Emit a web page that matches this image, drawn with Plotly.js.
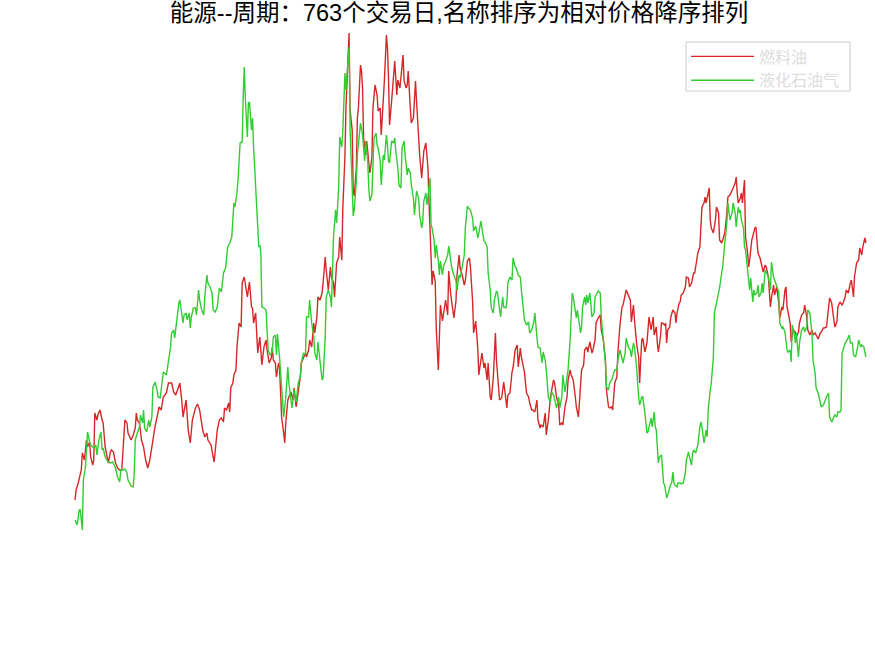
<!DOCTYPE html>
<html>
<head>
<meta charset="utf-8">
<script src="https://cdn.plot.ly/plotly-3.0.1.min.js"></script>
<style>html,body{margin:0;padding:0;background:#fff;}#chart{width:875px;height:656px;}</style>
</head>
<body>
<div id="chart"></div>
<script>
// Series names
const seriesNames = ["燃料油", "液化石油气"];
const titleText = "能源--周期：763个交易日,名称排序为相对价格降序排列";

// 燃料油 (fuel oil) — trading-day index and relative price, in segments
const fuelDays1 = [0,1,3,5,6,7,9,11,12,14,15,17,18,19,21,22,24,26,27,29,31,32,34,35,37,38,39,41,43,45,47,48,50,51,54,56,58,59,60,62,64,66,68,70,72,73,75,77,79,81,83,85,88,90,93,95,97,100,101,103,104,107,109,111,113,116,118,120,123,125,127,128,131,133,134];
const fuelVals1 = [1.00,1.10,1.17,1.27,1.30,1.47,1.40,1.60,1.53,1.58,1.43,1.35,1.40,1.87,1.80,1.85,1.90,1.80,1.77,1.53,1.43,1.37,1.48,1.50,1.48,1.43,1.37,1.32,1.30,1.30,1.73,1.80,1.77,1.67,1.60,1.65,1.72,1.87,1.80,1.77,1.60,1.53,1.40,1.32,1.40,1.47,1.57,1.73,1.83,1.93,1.90,2.03,2.07,2.17,2.17,2.08,2.05,2.15,2.17,1.97,1.83,2.00,1.70,1.57,1.80,1.92,1.96,1.90,1.70,1.63,1.67,1.60,1.55,1.43,1.38];
const fuelDays2 = [137,139,141,143,144,146,148,149,150,152,153,155,156,158,160,161,163,164,166,168,170,171,172,174,176,178,179,180,182,184,185,187,189,190,191,193,194,196,197,199,201,202,203,205,206,208,210,211,213,215,217,218,220,222,223,225,226,228,230,231,233,234,236,238,239,241,242,244,246,247,249,250,252,254,255,257,258,260,261,263,264,265];
const fuelVals2 = [1.70,1.80,1.82,1.78,1.92,1.90,1.97,1.88,2.12,2.17,2.25,2.30,2.53,2.77,2.73,3.17,3.23,3.17,3.03,3.18,2.93,2.92,2.77,2.87,2.47,2.63,2.45,2.35,2.53,2.60,2.50,2.37,2.42,2.53,2.40,2.37,2.23,2.37,2.33,1.83,1.67,1.57,1.77,2.00,2.03,2.08,2.00,2.12,1.93,2.07,2.23,2.37,2.43,2.47,2.43,2.50,2.60,2.53,2.77,2.67,2.83,3.03,3.00,3.07,3.17,3.43,3.30,3.10,3.33,3.23,3.17,3.03,3.37,3.43,3.63,3.40,3.93,4.43,4.93,5.37,5.67,4.90];
const fuelDays3 = [267,268,269,271,272,273,275,276,277,278,280,281,283,284,286,287,289,291,292,294,295,297,298,300,301,302,303,305,307,308,310,311,313,315,316,317,319,320,321,323,324,326,328,329,331,332,334,335,336,338,340,341,342,344,345,347,348,350,351,352,354,355,357,359,360,362,363,365,367,368,370,371,373,375,376,378,380,381,383,384,386,388,389,391,392,394];
const fuelVals3 = [4.70,4.09,4.04,4.32,4.82,4.92,5.35,5.29,5.12,4.62,4.45,4.59,4.35,4.27,4.42,4.92,5.15,5.05,4.89,4.92,4.65,4.95,5.19,5.65,5.52,5.22,4.75,4.99,5.25,5.39,5.05,5.20,5.12,5.32,5.45,5.19,5.12,5.15,5.29,4.92,4.77,4.82,5.19,4.99,4.62,4.45,4.22,4.42,4.49,4.57,4.32,3.99,3.65,3.15,3.29,3.19,2.72,2.30,2.62,2.95,2.79,2.85,3.00,2.85,3.29,3.05,2.95,2.82,2.99,3.25,3.45,3.32,3.25,3.15,3.19,3.39,3.42,3.32,2.99,2.67,2.79,2.52,2.25,2.42,2.47,2.32];
const fuelDays4 = [395,397,398,400,401,403,405,406,408,409,411,413,414,416,417,419,421,422,424,426,427,429,430,432,433,435,437,438,440,441,443,445,446,448,449,451,453,454,456,458,459,461,462,464,466,467,469,470,472,474,475,477,478,480,482,483,485,486,488,490,491,493,494,496,498,499,501,502,504,506,507,509,511,512,514,515,517,518,520,522,523];
const fuelVals4 = [2.37,2.20,2.37,2.03,2.00,2.23,2.67,2.40,2.18,2.00,2.02,2.18,2.10,1.92,2.05,2.07,2.28,2.32,2.50,2.55,2.33,2.52,2.43,2.30,2.28,2.07,2.03,1.97,1.90,1.90,1.88,2.00,1.80,1.72,1.75,1.73,1.87,1.65,1.80,2.03,2.10,2.20,2.17,2.02,1.95,1.75,1.77,1.75,1.93,2.03,2.20,2.30,2.25,2.20,2.03,1.93,1.83,2.03,2.30,2.35,2.50,2.53,2.48,2.58,2.47,2.50,2.60,2.77,2.82,2.85,2.70,2.60,2.40,2.10,1.93,1.92,1.93,1.90,2.17,2.23,2.47];
const fuelDays5 = [525,527,528,530,531,533,535,536,538,539,541,543,544,545,546,547,549,551,552,553,555,556,557,558,560,561,562,564,565,566,568,569,570,571,573,574,575,576,578,579,580,582,583,584,586,588,589,591,592,594,596,597,599,600,602,603,604,606,607,608,609,611,612,613,615,617,618,620,621,623,624,626,628,629,631,632,634,636,637,638,639,641,642,643,644,645,646,648,649,650];
const fuelVals5 = [2.75,2.93,2.95,3.03,3.10,3.05,3.00,2.78,2.95,2.80,2.57,2.43,2.17,2.40,2.60,2.62,2.48,2.57,2.67,2.83,2.70,2.77,2.83,2.65,2.73,2.57,2.48,2.63,2.77,2.77,2.75,2.77,2.57,2.70,2.73,2.83,2.88,2.90,2.87,2.77,2.87,2.97,2.98,3.05,3.07,3.13,3.23,3.22,3.13,3.17,3.27,3.27,3.40,3.47,3.53,3.70,3.93,3.97,4.03,3.97,4.02,4.12,3.80,3.72,3.67,3.80,3.93,3.87,3.60,3.57,3.60,3.67,3.87,4.03,4.05,4.07,4.12,4.17,4.23,4.07,3.97,4.02,4.07,3.97,4.13,4.20,3.63,3.47,3.33,3.40];
const fuelDays6 = [652,653,655,656,657,658,660,661,663,665,666,668,670,671,673,674,676,678,679,681,682,684,685,686,687,689,690,692,694,695,697,698,700,702,703,705,706,708,710,711,713,714,716,718,719,721,722,724,726,727,729,731,732,734,735,737,739,740,742,743,745,747,748,750,751,753,755,756,758,759,761,762];
const fuelVals6 = [3.60,3.65,3.72,3.73,3.60,3.47,3.42,3.37,3.28,3.35,3.33,3.23,2.93,3.02,3.15,3.05,3.13,2.97,2.82,2.93,2.90,3.10,3.13,2.93,2.87,2.77,2.58,2.70,2.68,2.63,2.68,2.77,2.85,2.87,2.95,2.83,2.70,2.65,2.70,2.65,2.67,2.65,2.61,2.67,2.68,2.72,2.72,2.73,2.98,3.02,2.97,2.77,2.73,2.78,2.93,2.98,2.95,2.97,3.03,3.10,3.07,3.17,3.20,3.03,3.23,3.37,3.40,3.52,3.45,3.53,3.62,3.57];

// 液化石油气 (LPG) — trading-day index and relative price, in segments
const lpgDays1 = [0,1,2,4,5,7,8,10,11,12,14,15,17,18,20,21,23,25,26,27,29,31,32,34,36,39,41,43,44,46,48,50,51,54,56,57,58,60,62,63,65,66,67,69,71,72,74,75,77,79,80,82,84,85,88,90,92,93,95,96,98,100,101,102,104,105,107,108,110,111,112,114,116,117,119,120,122,124,125,127,128,130,132,133,135];
const lpgVals1 = [0.80,0.77,0.75,0.90,0.90,0.70,1.20,1.33,1.53,1.68,1.58,1.55,1.53,1.52,1.55,1.45,1.60,1.68,1.50,1.52,1.43,1.40,1.38,1.37,1.38,1.32,1.23,1.18,1.30,1.30,1.31,1.27,1.20,1.14,1.13,1.27,1.60,1.67,1.73,1.85,1.77,1.90,1.72,1.68,1.80,1.73,1.83,2.13,2.18,2.10,2.03,2.02,2.18,2.28,2.25,2.40,2.53,2.67,2.70,2.62,2.80,2.97,3.00,2.90,2.77,2.85,2.87,2.80,2.87,2.72,2.83,2.92,2.92,2.85,3.10,3.00,2.90,2.85,3.03,3.25,3.17,3.13,3.07,2.90,2.88];
const lpgDays2 = [137,139,141,143,145,147,149,151,153,154,156,157,159,161,162,163,164,166,167,168,170,171,172,173,175,177,178,179,180,182,184,185,186,188,190,191,193,194,195,197,199,200,201,203,205,206,208,209,211,213,215,217,218,220,222,223,225,226,228,230,231,233,234,236,238,239,241,242,244,246,247,249,251,252,254,255,257,258,260,261,263,264,265];
const lpgVals2 = [2.93,3.12,3.08,3.27,3.32,3.53,3.57,3.63,3.97,3.93,4.07,4.20,4.57,4.58,5.03,5.33,5.03,4.63,4.97,4.98,4.70,4.82,4.53,4.30,3.83,3.53,3.55,3.47,2.93,2.92,2.90,2.73,2.50,2.45,2.48,2.63,2.65,2.45,2.66,2.43,2.17,2.00,1.83,2.03,2.33,2.17,2.00,1.92,2.10,1.98,2.17,2.23,2.37,2.47,2.45,2.83,2.83,3.00,2.77,2.63,2.47,2.40,2.58,2.40,2.20,2.22,2.63,3.03,3.10,3.03,2.93,3.63,3.90,3.77,4.13,4.63,4.53,4.70,5.27,5.10,5.40,5.53,4.70];
const lpgDays3 = [267,268,269,271,272,274,275,277,278,279,280,282,283,284,286,287,288,290,291,292,294,295,297,298,300,301,302,303,305,307,308,309,311,312,314,315,317,318,320,321,323,324,326,327,329,331,332,334,335,336,338,339,341,342,343,344,346,347,348,350,351,352,354,355,357,359,360,362,363,365,367,368,370,371,373,375,376,378,379,381,383,384,386,388,389,391,392,394];
const lpgVals3 = [4.15,3.84,3.90,4.19,4.45,4.72,4.77,4.65,4.52,4.39,4.59,4.39,4.12,3.99,4.05,4.39,4.62,4.67,4.55,4.52,4.39,4.15,4.45,4.40,4.65,4.55,4.39,4.37,4.59,4.57,4.62,4.49,4.32,4.15,4.12,4.52,4.59,4.45,4.25,4.32,4.27,4.15,4.02,3.85,4.09,4.02,3.85,3.72,3.79,3.99,4.07,3.95,4.12,4.22,3.75,3.72,3.59,3.42,3.55,3.39,3.25,3.39,3.25,3.34,3.39,3.45,3.54,3.39,3.32,3.25,3.19,3.09,3.25,3.22,3.32,3.45,3.72,3.94,3.92,3.90,3.82,3.69,3.74,3.62,3.67,3.79,3.72,3.59];
const lpgDays4 = [395,397,398,400,401,403,404,406,407,409,410,412,413,415,416,417,419,421,422,424,425,427,429,430,432,433,435,437,438,440,442,443,445,446,448,450,451,453,454,456,458,459,461,462,464,466,467,469,470,472,474,475,477,478,479,480,482,483,484,486,487,488,489,491,492,493,494,496,497,498,500,501,503,504,506,507,509,511,512,514,515,517,519,520,522,523,525,527];
const lpgVals4 = [3.58,3.53,3.27,3.10,2.92,2.87,3.00,3.09,3.07,2.90,2.83,3.03,2.93,2.92,2.97,3.17,3.23,3.20,3.42,3.33,3.32,3.25,3.23,3.10,2.87,2.80,2.75,2.78,2.67,2.70,2.78,2.87,2.63,2.53,2.52,2.37,2.48,2.40,2.30,2.03,1.98,2.08,2.05,2.00,1.92,2.03,1.92,2.03,2.25,2.08,2.20,2.30,2.60,2.90,3.07,3.03,2.88,2.82,2.90,2.77,2.67,2.73,2.93,3.03,2.95,3.05,2.97,3.07,2.93,2.83,2.87,3.03,3.07,3.09,3.07,2.83,2.60,2.37,2.13,2.10,2.17,2.20,2.27,2.30,2.30,2.40,2.50,2.43];
const lpgDays5 = [528,530,531,533,535,536,538,539,541,543,544,546,547,549,551,552,554,555,556,558,559,560,562,563,565,567,568,570,572,573,575,576,577,578,580,581,583,584,586,588,589,591,592,594,595,596,598,599,600,602,603,604,605,606,607,608,609,610,612,613,615,616,618,620,621,623,624,626,628,629,631,633,634,636,637,639,640,641,642,644,645,646,648,649,650,651,653,654,655,657,658,659];
const lpgVals5 = [2.37,2.47,2.62,2.53,2.50,2.43,2.57,2.53,2.33,2.03,1.95,2.03,2.03,1.87,1.67,1.68,1.77,1.82,1.73,1.88,1.73,1.70,1.37,1.43,1.45,1.17,1.15,1.02,1.08,1.13,1.18,1.28,1.17,1.15,1.13,1.17,1.17,1.16,1.17,1.27,1.40,1.48,1.43,1.35,1.47,1.50,1.47,1.52,1.55,1.73,1.78,1.73,1.63,1.57,1.63,1.70,1.63,1.90,2.10,2.17,2.43,2.87,2.97,3.08,3.12,3.27,3.33,3.57,3.77,3.97,3.80,3.87,3.97,3.87,3.73,3.93,3.87,3.90,3.80,3.72,3.53,3.50,3.33,3.23,3.10,3.22,2.98,3.10,3.05,3.07,3.15,3.03];
const lpgDays6 = [661,662,663,665,666,668,670,671,673,674,676,678,679,681,682,684,686,687,689,690,691,693,694,695,697,698,700,702,703,705,706,708,710,711,713,714,716,718,719,721,722,724,726,727,729,731,732,734,735,737,738,739,741,742,744,746,747,749,750,752,754,755,757,758,760,762];
const lpgVals6 = [3.07,3.17,3.07,3.30,3.28,3.23,3.10,3.38,3.23,3.20,3.13,3.08,2.77,2.72,2.73,2.68,2.50,2.48,2.50,2.38,2.75,2.67,2.57,2.67,2.43,2.57,2.70,2.73,2.68,2.73,2.90,2.87,2.67,2.40,2.27,2.12,2.07,1.97,1.93,1.95,1.98,2.03,2.07,1.83,1.78,1.82,1.85,1.83,1.88,1.88,1.90,2.47,2.55,2.57,2.60,2.65,2.57,2.57,2.45,2.43,2.53,2.60,2.53,2.55,2.53,2.43];

function join(pairs) {
  let xs = [], ys = [];
  pairs.forEach(function (p, i) {
    if (p[0].length !== p[1].length) throw new Error("segment " + (i + 1) + " length mismatch: " + p[0].length + " vs " + p[1].length);
    xs = xs.concat(p[0]); ys = ys.concat(p[1]);
  });
  return [xs, ys];
}

const fuel = join([[fuelDays1, fuelVals1], [fuelDays2, fuelVals2], [fuelDays3, fuelVals3], [fuelDays4, fuelVals4], [fuelDays5, fuelVals5], [fuelDays6, fuelVals6]]);
const lpg = join([[lpgDays1, lpgVals1], [lpgDays2, lpgVals2], [lpgDays3, lpgVals3], [lpgDays4, lpgVals4], [lpgDays5, lpgVals5], [lpgDays6, lpgVals6]]);

const traces = [
  {x: fuel[0], y: fuel[1], name: seriesNames[0], type: "scatter", mode: "lines",
   line: {color: "#d62728", width: 1.4}, hoverinfo: "skip"},
  {x: lpg[0], y: lpg[1], name: seriesNames[1], type: "scatter", mode: "lines",
   line: {color: "#32cd32", width: 1.4}, hoverinfo: "skip"}
];

const layout = {
  width: 875, height: 656,
  margin: {l: 73, r: 7, t: 30, b: 116},
  paper_bgcolor: "#ffffff", plot_bgcolor: "#ffffff",
  showlegend: true,
  title: {
    text: titleText,
    font: {family: "Liberation Sans, Noto Sans CJK SC, sans-serif", size: 23.5, color: "#000000"},
    x: 0.5246, xref: "container", xanchor: "center",
    y: 0.981, yref: "container", yanchor: "middle"
  },
  xaxis: {visible: false, range: [-2, 764]},
  yaxis: {visible: false, range: [0.60, 5.70]},
  // legend frame (decoration only)
  shapes: [{
    type: "rect", xref: "paper", yref: "paper", layer: "below",
    x0: (686 - 73) / 795, x1: (850 - 73) / 795,
    y0: (540 - 91) / 510, y1: (540 - 42) / 510,
    line: {color: "#cccccc", width: 1}, fillcolor: "#ffffff"
  }],
  legend: {
    x: 0.7711, y: (540 - 39.5) / 510, xanchor: "left", yanchor: "top",
    bgcolor: "rgba(0,0,0,0)", borderwidth: 0,
    font: {family: "Noto Sans CJK SC, sans-serif", size: 16, color: "#dddddd"},
    itemwidth: 63, tracegroupgap: 0
  }
};

Plotly.newPlot("chart", traces, layout, {staticPlot: true, displayModeBar: false});
</script>
</body>
</html>
